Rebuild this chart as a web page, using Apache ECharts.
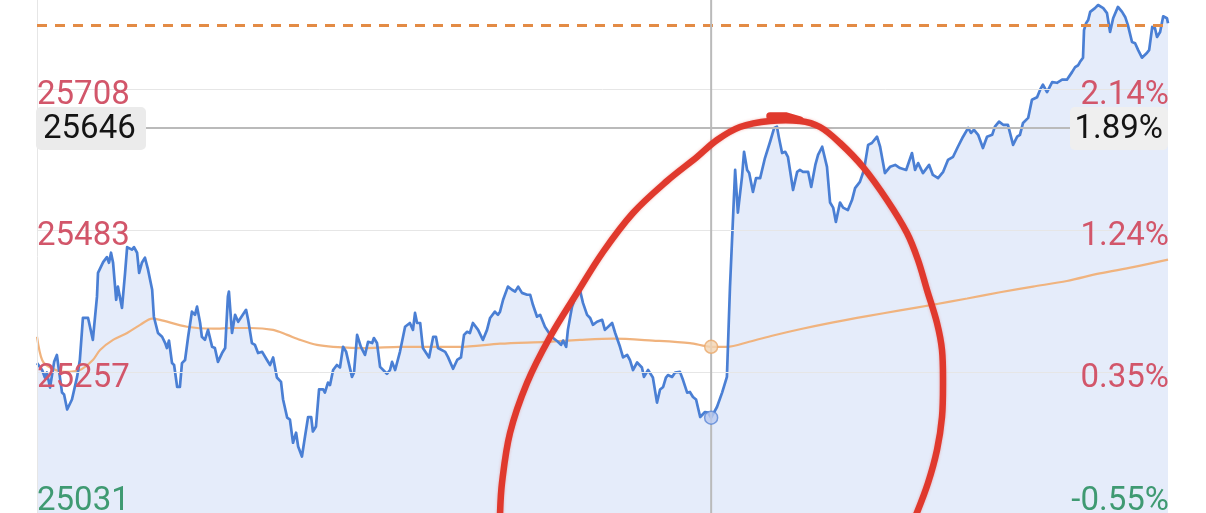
<!DOCTYPE html>
<html><head><meta charset="utf-8">
<script src="https://cdn.jsdelivr.net/npm/echarts@6/dist/echarts.min.js"></script>
<style>html,body{margin:0;padding:0;background:#fff;overflow:hidden}#c{width:1206px;height:513px}</style>
</head><body><div id="c"></div>
<script>
// minutes since open (330-minute session) and index level
const priceTimes = [0,1.5,2.3,2.9,3.8,5.0,5.8,6.4,7.3,7.9,8.8,10.2,11.7,12.5,13.4,14.9,16.3,17.5,17.8,19.3,20.4,21.0,21.6,22.2,23.1,23.6,24.8,25.7,26.3,27.7,28.3,29.2,29.8,30.6,31.5,32.4,33.6,34.1,35.3,36.5,37.4,37.9,38.5,39.4,40.0,40.9,41.7,42.3,43.2,44.1,45.2,46.1,46.7,47.6,48.1,49.0,49.9,51.1,51.9,52.8,54.0,54.9,55.7,56.0,56.9,57.8,58.7,61.0,61.6,62.7,63.6,64.5,65.7,67.1,68.0,68.9,70.0,71.2,71.8,73.0,73.8,74.7,75.6,76.2,77.3,78.2,79.1,80.0,80.5,81.4,82.3,83.5,84.0,84.9,85.5,86.4,87.5,88.4,89.3,90.2,91.9,92.5,93.4,94.5,95.7,96.6,97.8,98.3,99.2,100.1,102.1,103.0,103.6,104.5,105.9,107.4,108.8,109.7,110.3,110.9,111.8,112.6,114.4,115.6,116.4,117.0,119.1,119.9,121.4,122.6,123.7,124.6,125.5,126.3,127.2,128.7,130.1,131.3,132.2,133.6,134.5,135.1,136.0,137.4,138.6,139.5,140.4,141.5,143.0,143.9,144.7,145.9,146.8,148.2,149.4,150.6,152.0,152.9,153.5,154.4,154.9,156.1,157.6,158.4,159.3,160.5,161.4,162.2,163.4,164.9,165.7,167.8,168.7,170.1,171.0,172.2,173.0,173.9,175.1,176.5,177.1,178.3,179.7,180.9,181.8,182.7,183.5,184.1,185.3,186.2,187.6,188.5,189.7,190.5,191.4,192.3,193.5,194.9,195.8,196.7,198.4,199.9,201.3,202.2,203.7,204.5,205.7,206.3,207.2,207.8,208.9,209.8,211.0,212.4,213.9,215.1,215.9,216.5,217.4,218.3,219.1,220.6,221.8,222.6,223.5,225.0,225.9,227.1,227.9,229.1,230.5,231.4,232.3,233.1,234.3,235.2,236.6,237.8,238.7,240.1,241.3,242.5,243.6,245.1,246.0,247.4,248.9,250.4,251.8,253.6,255.3,256.2,257.1,258.5,260.3,261.4,262.9,264.4,265.8,267.3,268.7,270.2,271.7,272.5,273.4,274.6,276.0,277.2,278.7,279.5,280.7,281.9,283.3,284.8,286.0,286.8,287.7,289.2,290.3,291.8,292.7,293.5,294.7,296.2,297.6,299.1,300.5,302.0,302.9,303.8,304.3,305.2,305.5,306.1,306.7,307.3,308.7,309.6,311.1,312.2,313.1,314.0,315.4,316.6,317.5,318.3,319.5,320.4,321.3,322.4,323.9,324.5,325.4,326.2,326.8,327.7,328.6,329.7,330.0];
const prices = [25271,25260,25248,25256,25232,25273,25284,25260,25224,25221,25197,25213,25249,25276,25343,25343,25308,25377,25415,25432,25440,25431,25447,25431,25372,25393,25359,25415,25456,25452,25456,25447,25415,25431,25439,25420,25388,25345,25319,25313,25303,25295,25307,25271,25268,25233,25233,25271,25276,25313,25353,25348,25361,25335,25313,25308,25324,25297,25295,25273,25287,25295,25377,25385,25319,25348,25337,25356,25340,25303,25300,25287,25289,25276,25268,25280,25248,25241,25213,25184,25181,25144,25160,25138,25122,25154,25185,25185,25162,25170,25229,25229,25224,25240,25236,25260,25268,25264,25297,25289,25249,25256,25316,25297,25284,25305,25303,25311,25303,25265,25254,25260,25273,25260,25289,25329,25335,25324,25351,25335,25335,25295,25280,25313,25313,25295,25289,25281,25262,25276,25280,25316,25321,25319,25335,25324,25308,25324,25343,25353,25348,25353,25372,25393,25388,25385,25393,25383,25380,25380,25364,25345,25348,25329,25319,25311,25305,25300,25307,25297,25324,25361,25383,25388,25367,25348,25343,25332,25337,25340,25324,25335,25319,25297,25280,25284,25276,25260,25272,25264,25249,25260,25248,25208,25229,25233,25248,25252,25249,25256,25257,25244,25224,25225,25217,25213,25185,25193,25192,25184,25201,25224,25249,25393,25579,25511,25568,25608,25579,25574,25544,25566,25566,25598,25624,25646,25648,25630,25606,25608,25600,25547,25576,25579,25576,25576,25552,25587,25603,25616,25584,25527,25519,25496,25527,25519,25515,25531,25550,25560,25579,25619,25622,25632,25616,25574,25584,25587,25582,25579,25606,25579,25590,25574,25587,25571,25566,25576,25595,25600,25616,25632,25646,25638,25643,25635,25614,25632,25635,25648,25656,25651,25651,25619,25632,25635,25654,25662,25691,25695,25707,25715,25703,25719,25718,25723,25723,25735,25743,25746,25751,25758,25802,25813,25818,25831,25837,25842,25837,25829,25799,25821,25839,25831,25823,25810,25783,25781,25770,25758,25766,25770,25807,25805,25791,25799,25824,25821,25813];
const avgTimes = [0,1.5,3.8,8.2,12.5,16.3,18.4,22.2,26.3,30.1,33.6,35.9,43.8,51.4,57.2,62.2,68.9,73.0,76.8,81.7,86.4,96.3,105.9,123.4,135.1,148.8,158.4,168.1,179.7,190.5,196.7,201.3,207.8,214.8,222.6,232.3,242.2,251.8,261.4,271.4,281.0,290.6,300.5,310.1,319.8,330];
const avgPrices = [25313,25276,25264,25257,25260,25276,25292,25308,25319,25332,25342,25340,25329,25326,25327,25327,25324,25316,25308,25300,25297,25295,25297,25297,25302,25305,25308,25310,25307,25303,25297,25297,25305,25315,25325,25336,25346,25355,25364,25374,25384,25393,25402,25414,25424,25436];
const prevClose = 25169;
const refLevel = 25810;
const yTicks = [25031, 25257, 25483, 25708];
const pctTicks = ['-0.55%', '0.35%', '1.24%', '2.14%'];
const crossTime = 196.7;
const crossPrice = 25646;
const crossPriceLabel = '25646';
const crossPctLabel = '1.89%';

const W = 1206, H = 513;
const FONT = 'Roboto, "Noto Sans", sans-serif';
const RED = '#d2566a', GREEN = '#3f9a72';

const pricePairs = priceTimes.map((t, i) => [t, prices[i]]);
const avgPairs = avgTimes.map((t, i) => [t, avgPrices[i]]);
const crossIdx = priceTimes.indexOf(crossTime);
const avgIdx = avgTimes.indexOf(crossTime);

const chart = echarts.init(document.getElementById('c'), null, {renderer: 'canvas'});
chart.setOption({
  animation: false,
  backgroundColor: '#ffffff',
  grid: {left: 37, right: 38, top: 0, bottom: 0, containLabel: false},
  xAxis: {type: 'value', min: 0, max: 330, show: false},
  yAxis: {type: 'value', min: 25032, max: 25850, show: false, splitLine: {show: false}},
  series: [
    {
      type: 'line', name: 'area', data: pricePairs, showSymbol: false, silent: true, z: 1,
      lineStyle: {width: 0, opacity: 0},
      areaStyle: {color: '#e5ecfa', opacity: 1, origin: 'start'},
      markLine: {
        silent: true, symbol: 'none', animation: false,
        label: {show: false},
        lineStyle: {color: '#e6e6e6', width: 1, type: 'solid'},
        data: yTicks.slice(1).map(v => ({yAxis: v})).concat([{xAxis: 0}])
      }
    },
    {
      type: 'line', name: 'avg', data: avgPairs, showSymbol: false, smooth: 0.3, z: 3,
      lineStyle: {color: '#f0b37e', width: 2.2}
    },
    {
      type: 'line', name: 'price', data: pricePairs, showSymbol: false, z: 4,
      lineStyle: {color: '#4a7fd4', width: 2.7, join: 'round'},
      markLine: {
        silent: true, symbol: 'none', animation: false,
        label: {show: false},
        lineStyle: {color: '#e38b45', width: 3, type: [10, 8]},
        data: [{yAxis: refLevel}]
      }
    },
    {
      type: 'scatter', name: 'crossPrice', z: 8, symbolSize: 13,
      data: [[crossTime, prices[crossIdx]]],
      itemStyle: {color: '#b9c9ef', borderColor: '#5a86d6', borderWidth: 1.5}
    },
    {
      type: 'scatter', name: 'crossAvg', z: 8, symbolSize: 13,
      data: [[crossTime, avgPrices[avgIdx]]],
      itemStyle: {color: '#f3d5b3', borderColor: '#eaa96c', borderWidth: 1.5}
    }
  ]
});

const px = v => chart.convertToPixel({yAxisIndex: 0}, v);
const cx = chart.convertToPixel({xAxisIndex: 0}, crossTime);
const gL = 37, gR = W - 38;
const g = [];
yTicks.forEach((v, i) => {
  const y = Math.min(px(v) + 7, H - 11);
  const col = v >= prevClose ? RED : GREEN;
  g.push({type: 'text', z: 20, style: {text: String(v), x: gL, y: y, font: '33px ' + FONT, fill: col, textAlign: 'left', textVerticalAlign: 'middle'}});
  g.push({type: 'text', z: 20, style: {text: pctTicks[i], x: gR + 1, y: y, font: '33px ' + FONT, fill: col, textAlign: 'right', textVerticalAlign: 'middle'}});
});
// crosshair
const cy = px(crossPrice);
g.push({type: 'line', z: 6, shape: {x1: cx, y1: 0, x2: cx, y2: H}, style: {stroke: '#bababa', lineWidth: 2}});
g.push({type: 'line', z: 6, shape: {x1: 146, y1: cy, x2: 1070, y2: cy}, style: {stroke: '#bababa', lineWidth: 2}});
g.push({type: 'rect', z: 21, shape: {x: 36, y: cy - 21, width: 110, height: 43, r: 5}, style: {fill: '#ebebeb'}});
g.push({type: 'text', z: 22, style: {text: crossPriceLabel, x: 43, y: cy + 2, font: '33px ' + FONT, fill: '#141414', textAlign: 'left', textVerticalAlign: 'middle'}});
g.push({type: 'rect', z: 21, shape: {x: 1070, y: cy - 21, width: 98, height: 43, r: 5}, style: {fill: '#efefef'}});
g.push({type: 'text', z: 22, style: {text: crossPctLabel, x: 1163, y: cy + 2, font: '33px ' + FONT, fill: '#141414', textAlign: 'right', textVerticalAlign: 'middle'}});
// hand-drawn red annotation
g.push({type: 'polyline', z: 30, shape: {smooth: 0.35, points: [[500,515],[502,483],[510,433],[527,383],[550,337],[577,293],[603,252],[633,213],[667,181],[697,157],[717,140],[740,127],[770,121],[800,121],[820,127],[840,143],[863,167],[887,200],[907,233],[918,260],[927,290],[937,323],[942,350],[943,383],[942,417],[937,450],[928,483],[916,515]]}, style: {stroke: '#e0392d', lineWidth: 6.5, fill: null, lineCap: 'round', lineJoin: 'round', shadowColor: 'rgba(224,57,45,0.35)', shadowBlur: 3}});
g.push({type: 'polyline', z: 31, shape: {points: [[770,116],[786,116],[800,120]]}, style: {stroke: '#e0392d', lineWidth: 7.5, fill: null, lineCap: 'round'}});
chart.setOption({graphic: g});
</script></body></html>
